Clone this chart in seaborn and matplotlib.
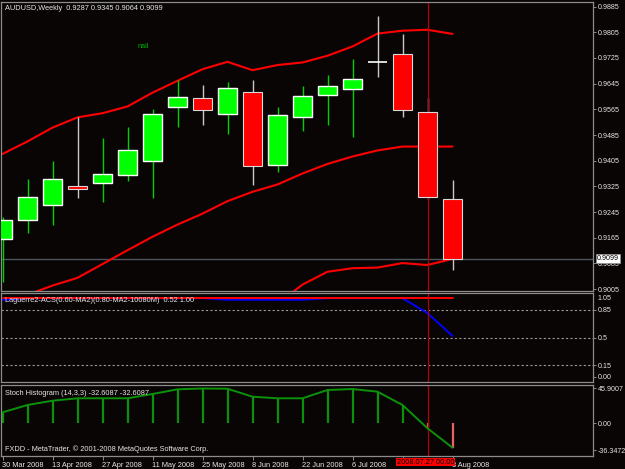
import numpy as np
import pandas as pd
import matplotlib
matplotlib.use("Agg")
import matplotlib.pyplot as plt
import seaborn as sns

# --- weekly AUDUSD bars ---
weeks = ["30 Mar 2008", "6 Apr 2008", "13 Apr 2008", "20 Apr 2008", "27 Apr 2008",
         "4 May 2008", "11 May 2008", "18 May 2008", "25 May 2008", "1 Jun 2008",
         "8 Jun 2008", "15 Jun 2008", "22 Jun 2008", "29 Jun 2008", "6 Jul 2008",
         "13 Jul 2008", "20 Jul 2008", "27 Jul 2008", "3 Aug 2008"]
opens = [0.9161, 0.9220, 0.9266, 0.9327, 0.9337, 0.9361, 0.9405, 0.9571, 0.9599, 0.9549,
         0.9619, 0.9393, 0.9542, 0.9609, 0.9629, 0.9711, 0.9736, 0.9557, 0.9287]
highs = [0.9231, 0.9348, 0.9405, 0.9540, 0.9476, 0.9510, 0.9567, 0.9657, 0.9641, 0.9649,
         0.9655, 0.9573, 0.9638, 0.9673, 0.9722, 0.9856, 0.9799, 0.9600, 0.9345]
lows = [0.9028, 0.9179, 0.9205, 0.9290, 0.9276, 0.9342, 0.9290, 0.9511, 0.9515, 0.9488,
        0.9328, 0.9371, 0.9496, 0.9515, 0.9478, 0.9667, 0.9542, 0.9286, 0.9064]
closes = [0.9221, 0.9293, 0.9347, 0.9318, 0.9364, 0.9437, 0.9549, 0.9604, 0.9563, 0.9631,
          0.9389, 0.9546, 0.9607, 0.9638, 0.9660, 0.9711, 0.9563, 0.9293, 0.9099]

# Bollinger bands (red lines on the price panel)
bb_upper = [0.9426, 0.9465, 0.9508, 0.9540, 0.9553, 0.9574, 0.9617, 0.9654, 0.9690, 0.9713,
            0.9687, 0.9703, 0.9711, 0.9732, 0.9761, 0.9801, 0.9810, 0.9813, 0.9800]
bb_middle = [0.8962, 0.8987, 0.9016, 0.9040, 0.9083, 0.9126, 0.9168, 0.9206, 0.9240, 0.9279,
             0.9308, 0.9331, 0.9365, 0.9395, 0.9418, 0.9437, 0.9449, 0.9449, 0.9449]
bb_lower = [0.8497, 0.8509, 0.8523, 0.8540, 0.8614, 0.8679, 0.8718, 0.8758, 0.8790, 0.8845,
            0.8929, 0.8959, 0.9019, 0.9059, 0.9070, 0.9072, 0.9086, 0.9080, 0.9099]

# Laguerre sub-window
lag_fast = [0.98, 1.00, 1.00, 1.00, 1.00, 1.00, 1.00, 1.00, 1.00, 0.98,
            0.98, 0.98, 0.98, 1.00, 1.00, 1.00, 1.00, 0.81, 0.52]
lag_slow = [1.00, 1.00, 1.00, 1.00, 1.00, 1.00, 1.00, 1.00, 1.00, 1.00,
            1.00, 1.00, 1.00, 1.00, 1.00, 1.00, 1.00, 1.00, 1.00]
lag_levels = [0.85, 0.5, 0.15]

# Stoch histogram sub-window
stoch = [14.3, 24.0, 29.7, 32.9, 32.9, 32.9, 38.6, 44.8, 45.9007, 45.6,
         35.0, 32.9, 32.9, 43.9, 45.2, 41.7, 24.0, -6.9, -32.6087]

price_ticks = [0.9885, 0.9805, 0.9725, 0.9645, 0.9565, 0.9485, 0.9405, 0.9325,
               0.9245, 0.9165, 0.9085, 0.9005]

# --- style ---
sns.set_style("dark")
plt.rcParams['font.family'] = ['Liberation Sans', 'DejaVu Sans']
BG = "#0a0505"
GRAY = "#8c8c8c"
TXT = "#e6e6e6"
FS = 5.3
YFS = 5.1
W, H = 625, 469

fig = plt.figure(figsize=(6.25, 4.69), dpi=100, facecolor=BG)


def box(top, bottom, left=1, right=593):
    return [left / W, 1 - bottom / H, (right - left) / W, (bottom - top) / H]


def px(x, y):
    return x / W, 1 - y / H


ax = fig.add_axes(box(1.5, 291))
ax_lag = fig.add_axes(box(293, 382))
ax_st = fig.add_axes(box(385, 456))

for a in (ax, ax_lag, ax_st):
    a.set_facecolor(BG)
    a.set_xlim(-0.06, 23.62)
    a.grid(False)
    for s in a.spines.values():
        s.set_visible(True)
        s.set_color(GRAY)
        s.set_linewidth(0.9)
    a.yaxis.tick_right()
    a.tick_params(axis="y", left=False, right=True, direction="out", length=2.5, width=0.7,
                  color=GRAY, labelcolor=TXT, labelsize=YFS, pad=1.0)
    a.axvline(17, color="#b00000", lw=0.9, zorder=2.5)

x = np.arange(len(weeks))

# --- price panel ---
o, h, l, c = map(np.array, (opens, highs, lows, closes))
bull = c > o
bear = c < o
doji = c == o

ax.axhline(closes[-1], color="#4c545c", lw=1, zorder=1)
bands = pd.DataFrame({"bar": x, "upper": bb_upper, "middle": bb_middle, "lower": bb_lower})
for col in ["upper", "middle", "lower"]:
    sns.lineplot(data=bands, x="bar", y=col, ax=ax, color="#ff0000", lw=1.5, zorder=1.5)

ax.vlines(x[bull], l[bull], h[bull], color="#00d000", lw=1, zorder=2)
ax.vlines(x[~bull], l[~bull], h[~bull], color="#c8c8c8", lw=1, zorder=2)
ax.bar(x[bull], (c - o)[bull], bottom=o[bull], width=0.76, color="#00ff00", zorder=3)
ax.bar(x[bear], (o - c)[bear], bottom=c[bear], width=0.76, color="#ff0000",
       edgecolor="#d8d8d8", lw=0.8, zorder=3)
ax.hlines(c[doji], x[doji] - 0.38, x[doji] + 0.38, color="white", lw=1.2, zorder=3)

ax.set_ylim(0.8999, 0.9901)
ax.set_yticks(price_ticks)
ax.set_yticklabels([f"{t:.4f}" for t in price_ticks])
ax.tick_params(axis="x", bottom=False, labelbottom=False)
ax.set_xlabel("")
ax.set_ylabel("")

# --- Laguerre panel ---
for lv in lag_levels:
    ax_lag.axhline(lv, color="#9a9a9a", lw=0.8, ls=(0, (2, 2)), zorder=1)
sns.lineplot(x=x, y=lag_fast, ax=ax_lag, color="#0000ff", lw=1.4, zorder=2)
sns.lineplot(x=x, y=lag_slow, ax=ax_lag, color="#ff0000", lw=1.4, zorder=2.2)
ax_lag.set_ylim(-0.066, 1.066)
ax_lag.set_yticks([0.85, 0.5, 0.15, 0.0])
ax_lag.set_yticklabels(["0.85", "0.5", "0.15", "0.00"])
ax_lag.tick_params(axis="x", bottom=False, labelbottom=False)
ax_lag.set_xlabel("")
ax_lag.set_ylabel("")

# --- Stoch histogram panel ---
st = np.array(stoch)
ST_GREEN = "#0a920a"
ax_st.vlines(x[st >= 0], 0, st[st >= 0], color=ST_GREEN, lw=1.6, zorder=2)
ax_st.vlines(x[st < 0], 0, st[st < 0], color="#e86464", lw=1.6, zorder=2)
sns.lineplot(x=x, y=st, ax=ax_st, color=ST_GREEN, lw=1.4, zorder=3)
ax_st.set_ylim(-43.65, 50.54)
ax_st.set_yticks([45.9007, 0.0, -36.3472])
ax_st.set_yticklabels(["45.9007", "0.00", "-36.3472"])
# the 20 Jul label sits under the red cursor-date box, so it is left blank
date_labels = [w if w != "20 Jul 2008" else "" for w in weeks[::2]]
ax_st.set_xticks(x[::2])
ax_st.set_xticklabels(date_labels, ha="left")
ax_st.tick_params(axis="x", bottom=True, direction="out", length=3, width=0.7, color=GRAY,
                  labelcolor=TXT, labelsize=FS, pad=1.5)
ax_st.set_xlabel("")
ax_st.set_ylabel("")

# --- texts ---
fig.text(*px(5, 8), "AUDUSD,Weekly  0.9287 0.9345 0.9064 0.9099", color=TXT,
         fontsize=FS, va="center", ha="left")
fig.text(*px(138, 46.5), "nail", color="#00b000", fontsize=FS, va="center", ha="left")
fig.text(*px(5, 301), "Laguerre2-ACS(0.60-MA2)(0.80-MA2-10080M)  0.52 1.00", color=TXT,
         fontsize=FS, va="center", ha="left")
fig.text(*px(5, 393), "Stoch Histogram (14,3,3) -32.6087 -32.6087", color=TXT,
         fontsize=FS, va="center", ha="left")
fig.text(*px(5, 449.5), "FXDD - MetaTrader, \u00a9 2001-2008 MetaQuotes Software Corp.",
         color=TXT, fontsize=FS, va="center", ha="left")
fig.text(*px(597, 299), "1.05", color=TXT, fontsize=YFS, va="center", ha="left")
fig.text(*px(597, 258.5), "0.9099", color="black", fontsize=YFS, va="center", ha="left",
         bbox=dict(boxstyle="square,pad=0.15", fc="white", ec="#909090", lw=0.6))
fig.text(*px(425.5, 462), "2008.07.27 00:00", color="black", fontsize=FS, va="center",
         ha="center", bbox=dict(boxstyle="square,pad=0.1", fc="#ff0000", ec="none"))

fig.savefig("out.png", dpi=100, facecolor=BG)
